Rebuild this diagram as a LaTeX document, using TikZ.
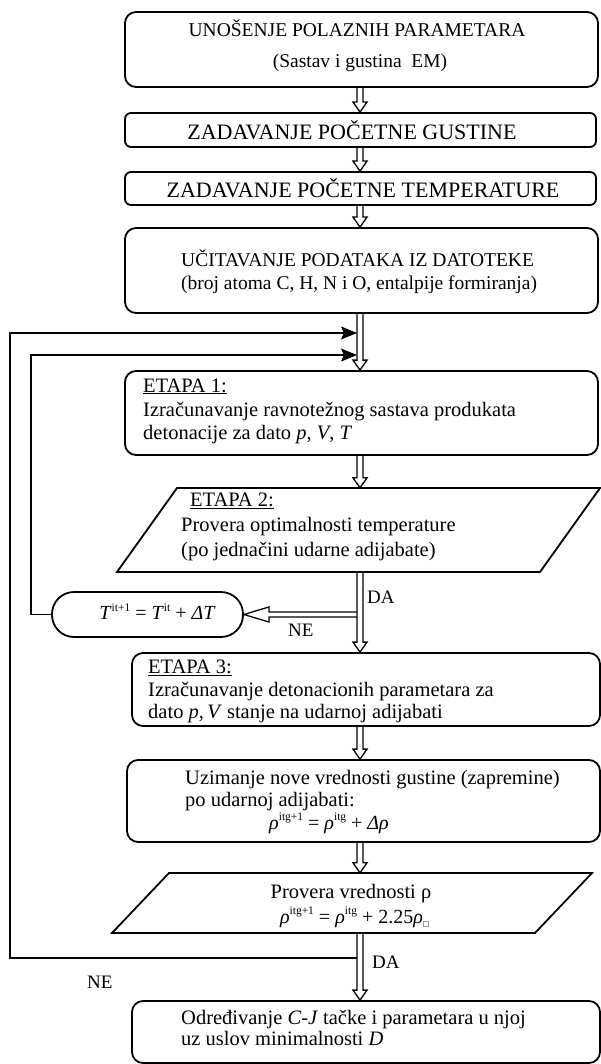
\documentclass[tikz,border=0pt]{standalone}
\usepackage{fontspec}
\setmainfont{Liberation Serif}
\newfontfamily\dejavu{DejaVu Sans}
\usetikzlibrary{arrows.meta,calc}
\newcommand\bodyfont{\fontsize{20.5}{23}\selectfont}
\newcommand\capfont{\fontsize{19.5}{23}\selectfont}
\newcommand\bigcapfont{\fontsize{22}{26}\selectfont}
\newcommand\mathfont{\fontsize{20}{22}\selectfont}
\newcommand\mysup[1]{\raisebox{0.42em}{\fontsize{11.5}{12}\selectfont #1}}
\newcommand\vdbl[2]{\draw[dblline] let \p1=(#1), \p2=(#2) in
  (\x1-3pt,\y1) -- (\x1-3pt,\y2+10pt) -- (\x1-7pt,\y2+10pt) -- (\x1,\y2)
  -- (\x1+7pt,\y2+10pt) -- (\x1+3pt,\y2+10pt) -- (\x1+3pt,\y1);}
\newcommand\hdbl[2]{\draw[dblline] let \p1=(#1), \p2=(#2) in
  (\x1,\y2+2.5pt) -- (\x2+25pt,\y2+2.5pt) -- (\x2+25pt,\y2+7.5pt) -- (\x2,\y2)
  -- (\x2+25pt,\y2-7.5pt) -- (\x2+25pt,\y2-2.5pt) -- (\x1,\y2-2.5pt);}
\begin{document}
\begin{tikzpicture}[x=1pt,y=-1pt,
  box/.style={draw, line width=1.8pt, rounded corners=11pt, inner sep=0pt},
  sbox/.style={box, rounded corners=6pt},
  shape outline/.style={draw, line width=1.8pt, line join=miter},
  ghost/.style={inner sep=0pt, draw=none},
  dblline/.style={line width=1.3pt, line join=miter},
  fb/.style={line width=1.1pt, -{Stealth[length=16pt,width=13pt,inset=3pt]}},
  lbl/.style={inner sep=0pt, anchor=base west, font=\bodyfont},
  clbl/.style={inner sep=0pt, anchor=base, font=\bodyfont},
  yn/.style={inner sep=0pt, anchor=base west, font=\fontsize{19}{23}\selectfont}]
\useasboundingbox (0,0) rectangle (601,1064);
\coordinate (ax) at (360,0);

% boxes
\node[box, minimum width=473pt, minimum height=75pt] (b1) at (361.5,49.5) {};
\node[sbox, minimum width=471pt, minimum height=34pt] (b2) at (360.5,130) {};
\node[sbox, minimum width=471pt, minimum height=33pt] (b3) at (360.5,188.5) {};
\node[box, minimum width=473pt, minimum height=85pt] (b4) at (361.5,270.5) {};
\node[box, minimum width=473pt, minimum height=84pt] (e1) at (361.5,413) {};
\node[ghost, minimum width=423pt, minimum height=84pt] (e2) at (358.5,530) {};
\draw[shape outline] (177,488) -- (600,488) -- (540,572) -- (117,572) -- cycle;
\node[box, rounded corners=22pt, minimum width=191pt, minimum height=45pt] (tb) at (147.5,614.5) {};
\node[box, minimum width=468pt, minimum height=73pt] (e3) at (366,689.5) {};
\node[box, minimum width=473pt, minimum height=82pt] (b5) at (363.5,801) {};
\node[ghost, minimum width=423pt, minimum height=60pt] (p2) at (352,903) {};
\draw[shape outline] (169,873) -- (592,873) -- (535,933) -- (112,933) -- cycle;
\node[box, minimum width=468pt, minimum height=62pt] (b6) at (366,1032) {};

% texts
\node[clbl, font=\capfont] (t1a) at (357,36.5) {UNOŠENJE POLAZNIH PARAMETARA};
\node[clbl, font=\capfont] (t1b) at (360,67.5) {(Sastav i gustina\ \ EM)};
\node[clbl, font=\bigcapfont] (t2) at (352,139.5) {ZADAVANJE POČETNE GUSTINE};
\node[clbl, font=\bigcapfont] (t3) at (363,197.5) {ZADAVANJE POČETNE TEMPERATURE};
\node[lbl, font=\capfont] (t4a) at (181,266.5) {UČITAVANJE PODATAKA IZ DATOTEKE};
\node[lbl, font=\capfont] (t4b) at (181,289) {(broj atoma C, H, N i O, entalpije formiranja)};

\node[lbl] (e1a) at (143,392) {\underline{ETAPA 1:}};
\node[lbl] (e1b) at (143,416) {Izračunavanje ravnotežnog sastava produkata};
\node[lbl] (e1c) at (143,439) {detonacije za dato \textit{p}, \textit{V}, \textit{T}};

\node[lbl] (e2a) at (190,506.5) {\underline{ETAPA 2:}};
\node[lbl] (e2b) at (181,531) {Provera optimalnosti temperature};
\node[lbl] (e2c) at (181,556) {(po jednačini udarne adijabate)};

\node[clbl, font=\mathfont] (tbt) at (157.5,619.5) {\textit{T}\mysup{it+1} = \textit{T}\mysup{it} + \textit{ΔT}};

\node[lbl] (e3a) at (148,673.5) {\underline{ETAPA 3:}};
\node[lbl] (e3b) at (148,696) {Izračunavanje detonacionih parametara za};
\node[lbl] (e3c) at (148,718) {dato \textit{p},\,\textit{V} stanje na udarnoj adijabati};

\node[lbl] (b5a) at (185,784) {Uzimanje nove vrednosti gustine (zapremine)};
\node[lbl] (b5b) at (185,806) {po udarnoj adijabati:};
\node[lbl, font=\mathfont] (b5c) at (269,829) {\textit{ρ}\mysup{itg+1} = \textit{ρ}\mysup{itg} + \textit{Δρ}};

\node[clbl] (p2a) at (351,898) {Provera vrednosti ρ};
\node[clbl, font=\mathfont] (p2b) at (355,923) {\textit{ρ}\mysup{itg+1} = \textit{ρ}\mysup{itg} + 2.25\textit{ρ}\textsubscript{\dejavu\fontsize{7}{7}\selectfont □}};

\node[lbl] (b6a) at (181,1024) {Određivanje \textit{C-J} tačke i parametara u njoj};
\node[lbl] (b6b) at (181,1045) {uz uslov minimalnosti \textit{D}};

% labels
\node[yn] (da1) at (367,603.5) {DA};
\node[yn] (ne1) at (288,636.5) {NE};
\node[yn] (da2) at (372,968.5) {DA};
\node[yn] (ne2) at (87,988.5) {NE};

% double arrows
\vdbl{b1.south -| ax}{b2.north -| ax}
\vdbl{b2.south -| ax}{b3.north -| ax}
\vdbl{b3.south -| ax}{b4.north -| ax}
\vdbl{b4.south -| ax}{e1.north -| ax}
\vdbl{e1.south -| ax}{e2.north -| ax}
\vdbl{e2.south -| ax}{e3.north -| ax}
\vdbl{e3.south -| ax}{b5.north -| ax}
\vdbl{b5.south -| ax}{p2.north -| ax}
\vdbl{p2.south -| ax}{b6.north -| ax}

% feedback connectors
\coordinate (hj) at (357,614.5);
\hdbl{hj}{tb.east}
\coordinate (jo) at (357,958);
\coordinate (to) at (357,333);
\coordinate (ti) at (357,355);
\draw[fb] (jo) -- (10,958) |- (to);
\draw[fb] (tb.west) -- (31,614.5) |- (ti);
\end{tikzpicture}
\end{document}
